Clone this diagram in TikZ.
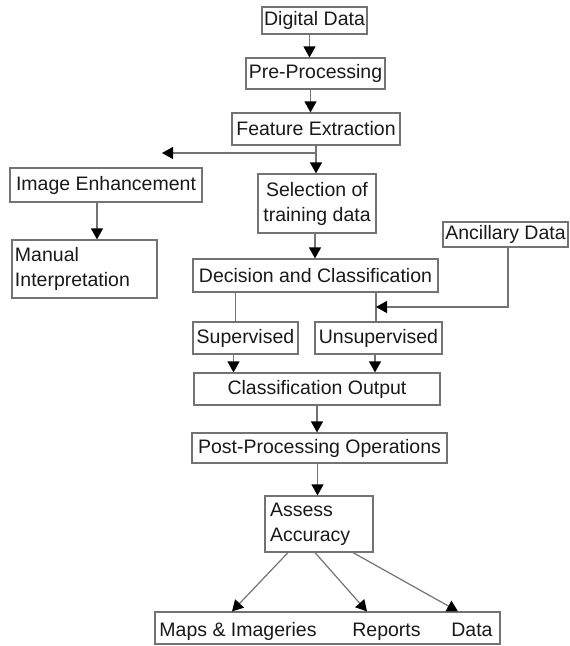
\documentclass[tikz,border=0pt]{standalone}
\usepackage{fontspec}
\setmainfont{Liberation Sans}
\usetikzlibrary{arrows.meta}
\begin{document}
\begin{tikzpicture}[x=1pt,y=-1pt,
  box/.style={draw=black!55, line width=1.2pt, inner sep=0pt, text=black!90, font=\fontsize{19.5}{25}\selectfont, align=center},
  lbl/.style={inner sep=0pt, anchor=base, text=black!90, font=\fontsize{19.5}{25}\selectfont},
  ln/.style={draw=black!55, line width=1.2pt},
  arr/.style={ln, -{Triangle[length=11pt,width=12pt,color=black]}}]
\useasboundingbox (0,0) rectangle (570,646);
\node[box, minimum width=105pt, minimum height=27pt] (digital) at (314.5,20.5) {Digital Data};
\node[box, minimum width=139pt, minimum height=31pt] (preproc) at (315.5,73.5) {Pre-Processing};
\node[box, minimum width=168pt, minimum height=32pt] (feature) at (316,129) {Feature Extraction};
\node[box, minimum width=118pt, minimum height=59pt] (select) at (317,203.5) {Selection of\\training data};
\node[box, minimum width=192pt, minimum height=34pt] (enhance) at (106,185) {Image Enhancement};
\node[box, minimum width=145pt, minimum height=58pt, text width=139pt, align=left] (manual) at (84.5,269) {Manual\\Interpretation};
\node[box, minimum width=125pt, minimum height=25pt] (ancillary) at (505.5,234.5) {Ancillary Data};
\node[box, minimum width=245pt, minimum height=33pt] (decision) at (315.5,275.5) {Decision and Classification};
\node[box, minimum width=105pt, minimum height=32pt] (superv) at (245.5,338) {Supervised};
\node[box, minimum width=127pt, minimum height=32pt] (unsuperv) at (378.5,338) {Unsupervised};
\node[box, minimum width=246pt, minimum height=32pt] (classout) at (317,389) {Classification Output};
\node[box, minimum width=255pt, minimum height=30pt] (postproc) at (319.5,448) {Post-Processing Operations};
\node[box, minimum width=108pt, minimum height=56pt, text width=98pt, align=left] (accuracy) at (319,524) {Assess\\Accuracy};
\node[box, minimum width=345pt, minimum height=32pt] (output) at (327.5,628) {};
\node[lbl] (maps) at (238,636) {Maps \& Imageries};
\node[lbl] (reports) at (386.5,636) {Reports};
\node[lbl] (data) at (472,636) {Data};
\coordinate (enhtip) at (162,153);
\coordinate (ancjoin) at (376,307);
\draw[arr] ([xshift=-5pt]digital.south) -- ([xshift=-5pt]digital.south |- preproc.north);
\draw[arr] ([xshift=-5pt]preproc.south) -- ([xshift=-5pt]preproc.south |- feature.north);
\draw[arr] (feature.south) -- (feature.south |- select.north);
\draw[arr] (feature.south |- enhtip) -- (enhtip);
\draw[arr] ([xshift=-9pt]enhance.south) -- ([xshift=-9pt]enhance.south |- manual.north);
\draw[arr] ([xshift=-2pt]select.south) -- ([xshift=-2pt]select.south |- decision.north);
\draw[ln] ([xshift=-10pt]superv.north) -- ([xshift=-10pt]superv.north |- decision.south);
\draw[ln] ([xshift=-2.5pt]unsuperv.north) -- ([xshift=-2.5pt]unsuperv.north |- decision.south);
\draw[arr] ([xshift=2.5pt]ancillary.south) |- (ancjoin);
\draw[arr] ([xshift=-12pt]superv.south) -- ([xshift=-12pt]superv.south |- classout.north);
\draw[arr] ([xshift=-3.5pt]unsuperv.south) -- ([xshift=-3.5pt]unsuperv.south |- classout.north);
\draw[arr] (classout.south) -- (classout.south |- postproc.north);
\draw[arr] ([xshift=-2pt]postproc.south) -- ([xshift=-2pt]postproc.south |- accuracy.north);
\draw[arr] ([xshift=-31pt]accuracy.south) -- ([xshift=-6pt]maps.north |- output.north);
\draw[arr] ([xshift=-4pt]accuracy.south) -- ([xshift=-19.5pt]reports.north |- output.north);
\draw[arr] ([xshift=34pt]accuracy.south) -- ([xshift=-14pt]data.north |- output.north);
\end{tikzpicture}
\end{document}
